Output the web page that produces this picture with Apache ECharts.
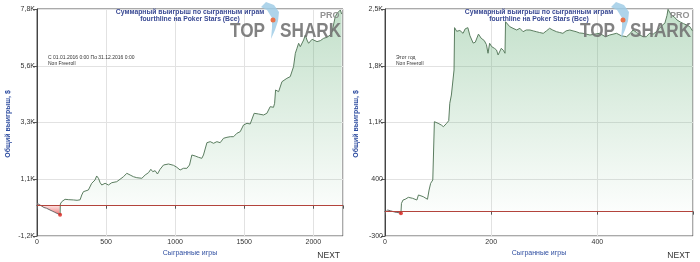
<!DOCTYPE html>
<html><head><meta charset="utf-8">
<script src="https://cdn.jsdelivr.net/npm/echarts@6/dist/echarts.min.js"></script>
<style>html,body{margin:0;padding:0;background:#fff}#c{width:700px;height:262px}</style>
</head><body><div id="c"></div>
<script>
// ---------- DATA ----------
// Left chart (С 01.01.2016 по 31.12.2016)
const leftRedGames = [0, 10, 22, 34, 50, 70, 82, 94, 110, 125, 143, 155, 162, 167];
const leftRedWins  = [97, 60, 29, -38, -70, -102, -140, -169, -210, -250, -300, -320, -340, -355];
const leftGames = [167, 169, 179, 203, 230, 263, 290, 312, 324, 336, 348, 372, 396, 420, 432, 445, 457, 469, 493, 517, 541, 577, 601, 626, 650, 674, 698, 722, 759, 783, 807, 824, 838, 855, 872, 891, 916, 952, 988, 1012, 1036, 1060, 1085, 1104, 1121, 1145, 1169, 1193, 1205, 1230, 1254, 1278, 1302, 1326, 1350, 1375, 1399, 1411, 1423, 1447, 1459, 1471, 1495, 1520, 1543, 1556, 1572, 1604, 1640, 1664, 1676, 1688, 1712, 1720, 1727, 1737, 1749, 1773, 1785, 1809, 1833, 1846, 1857, 1870, 1882, 1894, 1906, 1918, 1930, 1942, 1954, 1966, 1978, 1991, 2002, 2027, 2051, 2075, 2099, 2123, 2136, 2147, 2159, 2172, 2183, 2196, 2205];
const leftWins  = [-355, 69, 160, 255, 240, 230, 215, 235, 426, 557, 540, 624, 890, 1020, 1180, 1088, 913, 822, 890, 822, 913, 953, 1048, 1151, 1286, 1219, 1151, 1112, 1088, 1219, 1310, 1445, 1350, 1390, 1258, 1445, 1615, 1655, 1603, 1524, 1417, 1484, 1484, 1615, 2012, 1972, 1920, 1880, 2012, 2500, 2540, 2475, 2540, 2500, 2674, 2713, 2737, 2805, 2737, 2872, 2805, 2936, 3201, 3268, 3241, 3268, 3665, 3637, 3598, 3665, 3637, 3927, 3903, 4062, 4589, 4656, 4522, 4918, 4985, 5052, 5118, 5184, 5513, 6044, 6242, 6441, 6306, 6242, 6571, 6770, 6571, 6441, 6506, 6600, 6571, 6506, 6545, 6638, 6678, 6770, 6902, 6837, 7496, 7628, 7694, 7761, 7600];
const leftXTicks = [0, 500, 1000, 1500, 2000];
const leftXLabels = ['0', '500', '1000', '1500', '2000'];
const leftYTicks = [-1200, 1050, 3300, 5550, 7800];
const leftYLabels = ['-1,2K', '1,1K', '3,3K', '5,6K', '7,8K'];

// Right chart (Этот год)
const rightRedGames = [0, 5, 10, 16, 22, 27, 30];
const rightRedWins  = [-10, 20, 12, 0, -10, -12, -20];
const rightGames = [30, 31, 34, 38, 44, 52, 60, 63, 72, 80, 83, 86, 90, 92, 93, 100, 106, 110, 113, 116, 120, 122, 125, 128, 130, 131, 135, 141, 147, 151, 156, 160, 166, 170, 176, 181, 187, 191, 194, 197, 201, 206, 210, 213, 219, 223, 226, 227, 235, 241, 248, 254, 260, 266, 273, 279, 285, 291, 298, 304, 310, 316, 323, 329, 335, 341, 348, 354, 360, 366, 373, 379, 386, 395, 404, 415, 423, 436, 445, 455, 462, 467, 474, 480, 486, 492, 498, 505, 511, 517, 522, 527, 531, 533, 536, 539, 545, 550, 556, 562, 568, 574, 579];
const rightWins  = [-20, 103, 144, 153, 177, 165, 144, 206, 185, 153, 267, 350, 391, 400, 1110, 1090, 1069, 1048, 1060, 1090, 1122, 1337, 1439, 1418, 1748, 2270, 2225, 2235, 2200, 2255, 2270, 2170, 2080, 2090, 2190, 2140, 2110, 2060, 1954, 2077, 2035, 2015, 1994, 1933, 2015, 1990, 1954, 2343, 2282, 2262, 2241, 2262, 2220, 2241, 2241, 2230, 2220, 2210, 2200, 2230, 2262, 2240, 2220, 2210, 2200, 2230, 2241, 2230, 2220, 2205, 2200, 2190, 2179, 2190, 2200, 2158, 2179, 2200, 2170, 2158, 2200, 2241, 2210, 2179, 2158, 2158, 2200, 2190, 2220, 2262, 2300, 2324, 2420, 2496, 2460, 2426, 2400, 2364, 2340, 2320, 2303, 2282, 2230];
const rightXTicks = [0, 200, 400];
const rightXLabels = ['0', '200', '400'];
const rightYTicks = [-300, 400, 1100, 1800, 2500];
const rightYLabels = ['-300', '400', '1,1K', '1,8K', '2,5K'];

// ---------- TEXTS ----------
const titleLine1 = 'Суммарный выигрыш по сыгранным играм';
const titleLine2 = 'fourthline на Poker Stars (Все)';
const yName = 'Общий выигрыш, $';
const xName = 'Сыгранные игры';
const leftNote = ['С 01.01.2016 0:00 По 31.12.2016 0:00', 'Non Freeroll'];
const rightNote = ['Этот год', 'Non Freeroll'];

// ---------- HELPERS ----------
function zip(a, b) { return a.map((v, i) => [v, b[i]]); }
function lookup(ticks, labels) {
  return function (v) {
    for (let i = 0; i < ticks.length; i++) if (Math.abs(v - ticks[i]) < 1e-6) return labels[i];
    return '';
  };
}
const FONT = "'Liberation Sans', Arial, sans-serif";
const greenArea = {
  origin: 'auto',
  color: { type: 'linear', x: 0, y: 0, x2: 0, y2: 1,
    colorStops: [{ offset: 0, color: 'rgba(90,170,110,0.52)' }, { offset: 1, color: 'rgba(90,170,110,0.02)' }] }
};
const redArea = {
  origin: 'auto',
  color: { type: 'linear', x: 0, y: 0, x2: 0, y2: 1,
    colorStops: [{ offset: 0, color: 'rgba(255,170,170,0.25)' }, { offset: 1, color: 'rgba(225,25,25,0.95)' }] }
};
const lineColor = '#5b7d60';

const grids = [
  { left: 37, top: 9, width: 306, height: 227 },
  { left: 385, top: 9, width: 308, height: 227 }
];
function xAxisOf(idx, max, interval, ticks, labels) {
  return {
    type: 'value', gridIndex: idx, min: 0, max: max, interval: interval,
    axisLine: { lineStyle: { color: '#444', width: 1 } },
    axisTick: { length: 3, lineStyle: { color: '#555' } },
    axisLabel: { fontSize: 7, color: '#333', margin: 3, fontFamily: FONT, formatter: lookup(ticks, labels) },
    splitLine: { show: true, lineStyle: { color: '#e2e2e2', width: 1 } }
  };
}
function yAxisOf(idx, min, max, interval, ticks, labels) {
  return {
    type: 'value', gridIndex: idx, min: min, max: max, interval: interval,
    axisLine: { show: true, onZero: false, lineStyle: { color: '#444', width: 1 } },
    axisTick: { show: true, length: 4, lineStyle: { color: '#555' } },
    axisLabel: { fontSize: 7, color: '#333', margin: 2, fontFamily: FONT, formatter: lookup(ticks, labels) },
    splitLine: { show: true, lineStyle: { color: '#e2e2e2', width: 1 } }
  };
}
function seriesFor(idx, redG, redW, g, w) {
  const last = redG.length - 1;
  return [
    { type: 'line', xAxisIndex: idx, yAxisIndex: idx, data: zip(g, w), showSymbol: false, z: 3,
      lineStyle: { color: lineColor, width: 1 }, areaStyle: greenArea, animation: false,
      markLine: { silent: true, symbol: 'none', label: { show: false }, animation: false,
        lineStyle: { color: '#b3443c', width: 1, type: 'solid' }, data: [{ yAxis: 0 }] } },
    { type: 'line', xAxisIndex: idx, yAxisIndex: idx, data: zip(redG, redW), showSymbol: false, z: 3,
      lineStyle: { color: '#6a6a6a', width: 1 }, areaStyle: redArea, animation: false },
    { type: 'scatter', xAxisIndex: idx, yAxisIndex: idx, data: [[redG[last], redW[last]]], symbolSize: 4, z: 4,
      itemStyle: { color: '#d9221c' }, animation: false }
  ];
}
function panelGraphics(ox, gridW, note) {
  const cx = ox + gridW / 2;
  const g = [];
  const T = (x, y, text, font, fill, align, extra) => Object.assign({
    type: 'text', x: x, y: y, z: 100, silent: true,
    style: { text: text, font: font, fill: fill, textAlign: align || 'left', textVerticalAlign: 'middle' }
  }, extra || {});
  // logo
  const lx = ox + gridW - 113;
  g.push(T(lx, 31, 'TOP', 'bold 20px ' + FONT, 'rgba(115,115,115,0.9)', 'left', { z: 5, scaleX: 0.86 }));
  g.push(T(lx + 50, 31, 'SHARK', 'bold 20px ' + FONT, 'rgba(115,115,115,0.9)', 'left', { z: 5, scaleX: 0.86 }));
  g.push(T(lx + 90, 16, 'PRO', 'bold 9px ' + FONT, 'rgba(135,135,135,0.9)', 'left', { z: 5 }));
  g.push({ type: 'polygon', z: 5, silent: true,
    shape: { points: [[lx + 36, 2], [lx + 44, 5], [lx + 49, 12], [lx + 48, 21], [lx + 45, 30], [lx + 41, 39], [lx + 42, 28], [lx + 42, 18], [lx + 37, 10], [lx + 31, 7]] },
    style: { fill: 'rgba(160,205,230,0.85)' } });
  g.push({ type: 'circle', z: 6, silent: true, shape: { cx: lx + 43, cy: 20, r: 2.5 }, style: { fill: '#e9744c' } });
  // title
  g.push(T(cx, 12, titleLine1, 'bold 6.8px ' + FONT, '#3a4a94', 'center'));
  g.push(T(cx, 19.5, titleLine2, 'bold 6.8px ' + FONT, '#3a4a94', 'center'));
  // notes
  g.push(T(ox + 11, 57.5, note[0], '5px ' + FONT, '#333', 'left'));
  g.push(T(ox + 11, 64, note[1], '5px ' + FONT, '#333', 'left'));
  // axis names
  g.push(T(ox - 29, 124, yName, 'bold 7px ' + FONT, '#2e4da0', 'center', { rotation: Math.PI / 2 }));
  g.push(T(cx, 253, xName, '7px ' + FONT, '#2e4da0', 'center'));
  g.push(T(ox + gridW - 3, 256, 'NEXT', '8.5px ' + FONT, '#333', 'right'));
  return g;
}

const chart = echarts.init(document.getElementById('c'), null, { renderer: 'canvas' });
chart.setOption({
  backgroundColor: '#fff',
  animation: false,
  grid: grids.map(g => Object.assign({ show: true, borderColor: '#555', borderWidth: 1, backgroundColor: 'transparent' }, g)),
  xAxis: [xAxisOf(0, 2215, 500, leftXTicks, leftXLabels), xAxisOf(1, 580, 200, rightXTicks, rightXLabels)],
  yAxis: [yAxisOf(0, -1200, 7800, 2250, leftYTicks, leftYLabels), yAxisOf(1, -300, 2500, 700, rightYTicks, rightYLabels)],
  series: seriesFor(0, leftRedGames, leftRedWins, leftGames, leftWins)
    .concat(seriesFor(1, rightRedGames, rightRedWins, rightGames, rightWins)),
  graphic: panelGraphics(37, 306, leftNote).concat(panelGraphics(385, 308, rightNote))
});
</script></body></html>
